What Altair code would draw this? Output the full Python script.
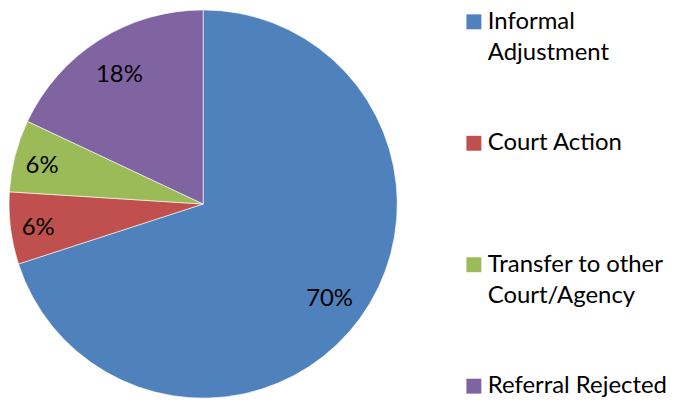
import altair as alt
import pandas as pd

categories = ["Informal\nAdjustment", "Court Action", "Transfer to other\nCourt/Agency", "Referral Rejected"]
values = [70, 6, 6, 18]
colors = ["#4F81BD", "#C0504D", "#9BBB59", "#8064A2"]

df = pd.DataFrame({"category": categories, "value": values, "order": list(range(len(categories)))})
df["pct"] = df["value"].astype(str) + "%"

FONT = "Lato"

base = alt.Chart(df).encode(
    theta=alt.Theta("value:Q", stack=True),
    order=alt.Order("order:Q"),
)

pie = base.mark_arc(stroke="white", strokeWidth=0.6, radius=195).encode(
    color=alt.Color(
        "category:N",
        scale=alt.Scale(domain=categories, range=colors),
        sort=categories,
        legend=alt.Legend(
            title=None,
            orient="none",
            legendX=456,
            legendY=1,
            symbolType="square",
            symbolSize=225,
            symbolStrokeWidth=0,
            labelFont=FONT,
            labelFontSize=24,
            labelColor="black",
            labelLimit=400,
            labelOffset=2,
            rowPadding=67,
            padding=0,
            labelExpr="indexof(datum.label, '\\n') >= 0 ? split(datum.label, '\\n') : [datum.label, ' ']",
        ),
    )
)

text_big = base.mark_text(font=FONT, fontSize=24, color="black", dy=3, radius=157).encode(
    text="pct:N",
    opacity=alt.condition("datum.value >= 10", alt.value(1), alt.value(0)),
)
text_small = base.mark_text(font=FONT, fontSize=24, color="black", dy=3, radius=167).encode(
    text="pct:N",
    opacity=alt.condition("datum.value < 10", alt.value(1), alt.value(0)),
)

chart = (
    (pie + text_big + text_small)
    .properties(
        width=392,
        height=392,
        autosize=alt.AutoSizeParams(type="none"),
        padding={"left": 0, "top": 0, "right": 270, "bottom": 4},
    )
    .configure(style={"guide-label": {"lineHeight": 31}})
    .configure_view(stroke=None)
)

chart.save("out.html", embed_options={"renderer": "svg", "actions": False})
